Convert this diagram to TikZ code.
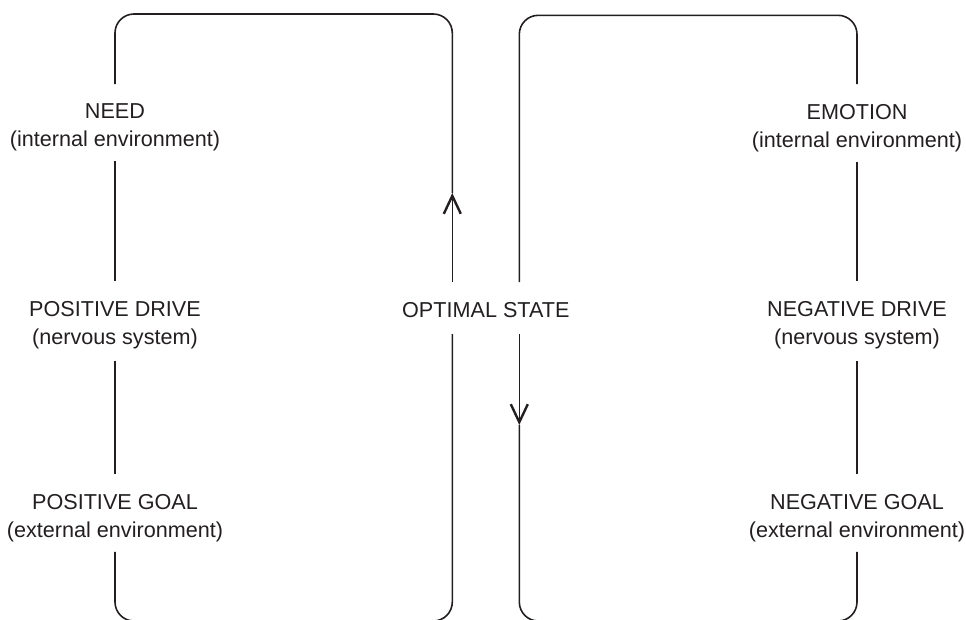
\documentclass[tikz,border=0pt]{standalone}
\usepackage{fontspec}
\setmainfont{Liberation Sans}
\usetikzlibrary{arrows.meta}
\definecolor{ink}{HTML}{231F20}
\begin{document}
\begin{tikzpicture}[x=1pt,y=-1pt,
  lbl/.style={align=center,inner sep=0pt,outer sep=0pt,text=ink,
    font=\fontsize{21.6}{28}\selectfont},
  wire/.style={draw=ink,line width=1.6pt},
  loopline/.style={wire,rounded corners=19pt},
  flow/.style={wire,-{Straight Barb[length=18pt,width=17pt,line width=2.4pt]}}]
\useasboundingbox (0,0) rectangle (966,619);
\clip (0,0) rectangle (966,619);

% labels of the left cycle
\node[lbl,anchor=north] (need)   at (115,104)   {NEED\\(internal environment)};
\node[lbl,anchor=north] (pdrive) at (115,301)   {POSITIVE DRIVE\\(nervous system)};
\node[lbl,anchor=north] (pgoal)  at (115,494.3) {POSITIVE GOAL\\(external environment)};
% shared centre state
\node[lbl,anchor=base]  (opt)    at (485.8,317.3) {OPTIMAL STATE};
% labels of the right cycle
\node[lbl,anchor=north] (emotion) at (857,104)   {EMOTION\\(internal environment)};
\node[lbl,anchor=north] (ndrive)  at (857,301)   {NEGATIVE DRIVE\\(nervous system)};
\node[lbl,anchor=north] (ngoal)   at (857,494.3) {NEGATIVE GOAL\\(external environment)};

% corners of the two cycles
\coordinate (LTL) at (115,14);
\coordinate (LTR) at (452.3,14);
\coordinate (LBL) at (115,621);
\coordinate (LBR) at (452.3,621);
\coordinate (RTL) at (519.3,15.3);
\coordinate (RTR) at (857,15.3);
\coordinate (RBL) at (519.3,621);
\coordinate (RBR) at (857,621);
% arrow tips
\coordinate (upTip)   at (452.3,193);
\coordinate (downTip) at (519.3,425);
% line ends beside the centre state
\coordinate (oLt) at ([xshift=-33.5pt,yshift=20pt]opt.north);
\coordinate (oLb) at ([xshift=-33.5pt,yshift=-16.5pt]opt.south);
\coordinate (oRt) at ([xshift=33.5pt,yshift=20pt]opt.north);
\coordinate (oRb) at ([xshift=33.5pt,yshift=-16.5pt]opt.south);

% left cycle
\draw[flow] (oLt) -- (upTip);
\draw[loopline] (upTip) -- (LTR) -- (LTL) -- ([yshift=20pt]need.north);
\draw[wire] ([yshift=-10pt]need.south) -- ([yshift=20pt]pdrive.north);
\draw[wire] ([yshift=-12pt]pdrive.south) -- ([yshift=20pt]pgoal.north);
\draw[loopline] ([yshift=-10pt]pgoal.south) -- (LBL) -- (LBR) -- (oLb);

% right cycle
\draw[flow] (oRb) -- (downTip);
\draw[loopline] (downTip) -- (RBL) -- (RBR) -- ([yshift=-10pt]ngoal.south);
\draw[wire] ([yshift=20pt]ngoal.north) -- ([yshift=-12pt]ndrive.south);
\draw[wire] ([yshift=20pt]ndrive.north) -- ([yshift=-10pt]emotion.south);
\draw[loopline] ([yshift=20pt]emotion.north) -- (RTR) -- (RTL) -- (oRt);
\end{tikzpicture}
\end{document}
